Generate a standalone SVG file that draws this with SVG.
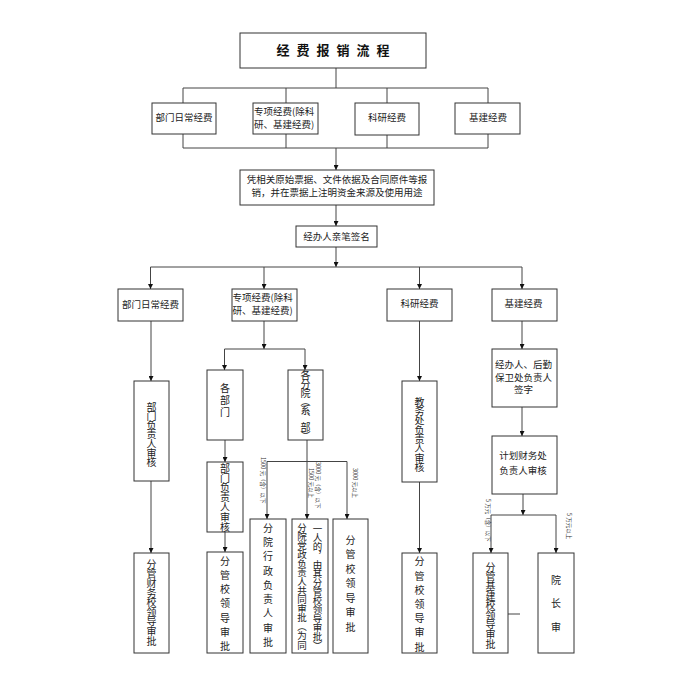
<svg xmlns="http://www.w3.org/2000/svg" width="694" height="694" viewBox="0 0 694 694">
<defs>
<style>
.bx{fill:#fff;stroke:#333;stroke-width:1}
.ln{fill:none;stroke:#444;stroke-width:1}
.t{font-family:"Noto Sans CJK SC","Noto Sans",sans-serif;font-size:9.5px;fill:#222;text-anchor:middle}
.tl{font-family:"Noto Sans CJK SC","Noto Sans",sans-serif;font-size:9.5px;fill:#222;text-anchor:start}
.vt{font-family:"Noto Sans CJK SC","Noto Sans",sans-serif;font-size:10px;fill:#222;writing-mode:vertical-rl;text-orientation:upright;text-anchor:start}
.lb{font-family:"Noto Sans CJK SC","Noto Sans",sans-serif;font-size:5.5px;fill:#333;text-anchor:start}
.ttl{font-family:"Noto Sans CJK SC","Noto Sans",sans-serif;font-size:13px;font-weight:bold;fill:#111;text-anchor:middle}
</style>
<marker id="ar" markerUnits="userSpaceOnUse" markerWidth="5" markerHeight="5" refX="5" refY="2.5" orient="auto">
<path d="M0,0 L5,2.5 L0,5 z" fill="#111"/>
</marker>
</defs>
<rect width="694" height="694" fill="#fff"/>

<g id="connectors">
<path class="ln" d="M336,68 V88 M183,88 H488 M183,88 V103 M286,88 V103 M387,88 V103 M488,88 V103"/>
<path class="ln" d="M183,134 V148 M286,134 V148 M387,135 V148 M488,134 V148 M183,148 H488"/>
<line class="ln" x1="336" y1="148" x2="336" y2="170" marker-end="url(#ar)"/>
<line class="ln" x1="336" y1="205" x2="336" y2="226" marker-end="url(#ar)"/>
<line class="ln" x1="336" y1="247" x2="336" y2="267" marker-end="url(#ar)"/>
<path class="ln" d="M150.5,267 H522"/>
<line class="ln" x1="150.5" y1="267" x2="150.5" y2="289" marker-end="url(#ar)"/>
<line class="ln" x1="264" y1="267" x2="264" y2="289" marker-end="url(#ar)"/>
<line class="ln" x1="419.5" y1="267" x2="419.5" y2="289" marker-end="url(#ar)"/>
<line class="ln" x1="522" y1="267" x2="522" y2="289" marker-end="url(#ar)"/>
<line class="ln" x1="151" y1="321" x2="151" y2="381" marker-end="url(#ar)"/>
<line class="ln" x1="151" y1="481" x2="151" y2="553" marker-end="url(#ar)"/>
<line class="ln" x1="264" y1="321" x2="264" y2="349" marker-end="url(#ar)"/>
<path class="ln" d="M224.5,349 H305"/>
<line class="ln" x1="224.5" y1="349" x2="224.5" y2="370" marker-end="url(#ar)"/>
<line class="ln" x1="305" y1="349" x2="305" y2="370" marker-end="url(#ar)"/>
<line class="ln" x1="225" y1="440" x2="225" y2="462" marker-end="url(#ar)"/>
<line class="ln" x1="225" y1="532" x2="225" y2="552" marker-end="url(#ar)"/>
<line class="ln" x1="307" y1="440" x2="307" y2="519" marker-end="url(#ar)"/>
<path class="ln" d="M267,461.5 H347"/>
<line class="ln" x1="267" y1="461.5" x2="267" y2="519" marker-end="url(#ar)"/>
<line class="ln" x1="347" y1="461.5" x2="347" y2="519" marker-end="url(#ar)"/>
<line class="ln" x1="419.5" y1="321" x2="419.5" y2="381" marker-end="url(#ar)"/>
<line class="ln" x1="419.5" y1="482" x2="419.5" y2="553" marker-end="url(#ar)"/>
<line class="ln" x1="522" y1="321" x2="522" y2="349" marker-end="url(#ar)"/>
<line class="ln" x1="522" y1="407" x2="522" y2="436" marker-end="url(#ar)"/>
<line class="ln" x1="523" y1="494" x2="523" y2="515" marker-end="url(#ar)"/>
<path class="ln" d="M491,515 H556"/>
<line class="ln" x1="491" y1="515" x2="491" y2="553" marker-end="url(#ar)"/>
<line class="ln" x1="556" y1="515" x2="556" y2="553" marker-end="url(#ar)"/>
<path class="ln" d="M508,614 H520"/>
<text class="lb" transform="translate(260.9,457) rotate(90)">1500 元（含）以下</text>
<text class="lb" transform="translate(316.4,462) rotate(90)">3000 元（含）以下</text>
<text class="lb" transform="translate(308.9,468) rotate(90)">1500 元以上</text>
<text class="lb" transform="translate(352.9,468) rotate(90)">3000 元以上</text>
<text class="lb" transform="translate(486.4,499) rotate(90)">5 万元（含）以下</text>
<text class="lb" transform="translate(566.9,513) rotate(90)">5 万元以上</text>
</g>

<g id="title">
<rect class="bx" x="240" y="33" width="186" height="35"/>
<text class="ttl" x="333" y="54.8" textLength="113" lengthAdjust="spacing">经 费 报 销 流 程</text>
</g>

<g id="r1-dept">
<rect class="bx" x="152" y="103" width="64" height="31"/>
<text class="t" x="184" y="121">部门日常经费</text>
</g>
<g id="r1-special">
<rect class="bx" x="253" y="103" width="65" height="31"/>
<text class="tl" x="254" y="114.6">专项经费(除科</text>
<text class="tl" x="254" y="127.6">研、基建经费)</text>
</g>
<g id="r1-research">
<rect class="bx" x="355" y="103" width="64" height="32"/>
<text class="t" x="387" y="121">科研经费</text>
</g>
<g id="r1-infra">
<rect class="bx" x="455" y="103" width="65" height="31"/>
<text class="t" x="488" y="121">基建经费</text>
</g>

<g id="voucher">
<rect class="bx" x="240" y="170" width="194" height="35"/>
<text class="t" x="337" y="183.3">凭相关原始票据、文件依据及合同原件等报</text>
<text class="t" x="337" y="196">销，并在票据上注明资金来源及使用用途</text>
</g>

<g id="sign">
<rect class="bx" x="296" y="226" width="81" height="21"/>
<text class="t" x="336.5" y="239.6">经办人亲笔签名</text>
</g>

<g id="r3-dept">
<rect class="bx" x="118" y="289" width="65" height="32"/>
<text class="t" x="150.5" y="307.6">部门日常经费</text>
</g>
<g id="r3-special">
<rect class="bx" x="232" y="289" width="65" height="32"/>
<text class="tl" x="232.5" y="300.5">专项经费(除科</text>
<text class="tl" x="232.5" y="314.4">研、基建经费)</text>
</g>
<g id="r3-research">
<rect class="bx" x="387" y="289" width="65" height="32"/>
<text class="t" x="419.5" y="307">科研经费</text>
</g>
<g id="r3-infra">
<rect class="bx" x="492" y="289" width="65" height="32"/>
<text class="t" x="523.5" y="307">基建经费</text>
</g>

<g id="dept-head">
<rect class="bx" x="134" y="381" width="35" height="100"/>
<text class="vt" x="151.5" y="402" style="letter-spacing:-0.8px">部门负责人审核</text>
</g>
<g id="finance-leader">
<rect class="bx" x="134" y="553" width="35" height="100"/>
<text class="vt" x="151.5" y="559" style="letter-spacing:-0.4px">分管财务校领导审批</text>
</g>

<g id="each-dept">
<rect class="bx" x="207" y="370" width="36" height="70"/>
<text class="vt" x="225" y="383" style="letter-spacing:2px">各部门</text>
</g>
<g id="each-college">
<rect class="bx" x="288" y="370" width="35" height="70"/>
<text class="vt" x="305.5" y="370.5" style="letter-spacing:-1.4px">各分院（系、部）</text>
</g>
<g id="dept-head-2">
<rect class="bx" x="207" y="462" width="36" height="70"/>
<text class="vt" x="225" y="463" style="letter-spacing:-0.2px">部门负责人审核</text>
</g>
<g id="leader-2">
<rect class="bx" x="207" y="552" width="36" height="101"/>
<text class="vt" x="225" y="556" style="letter-spacing:4.2px">分管校领导审批</text>
</g>
<g id="college-admin">
<rect class="bx" x="250" y="519" width="36" height="134"/>
<text class="vt" x="268" y="523" style="letter-spacing:4.25px">分院行政负责人审批</text>
</g>
<g id="college-joint">
<rect class="bx" x="292" y="519" width="36" height="134"/>
<text class="vt" x="302" y="522.3" style="font-size:9.5px;letter-spacing:-0.43px">分院党政负责人共同审批（为同</text>
<text class="vt" x="317.5" y="523.3" style="font-size:9.5px;letter-spacing:-0.5px">一人的，由其分管校领导审批）</text>
</g>
<g id="leader-3">
<rect class="bx" x="333" y="519" width="35" height="134"/>
<text class="vt" x="350.5" y="535" style="letter-spacing:4.5px">分管校领导审批</text>
</g>

<g id="academic-head">
<rect class="bx" x="402" y="381" width="35" height="101"/>
<text class="vt" x="419.5" y="397" style="letter-spacing:-0.7px">教务处负责人审核</text>
</g>
<g id="leader-4">
<rect class="bx" x="402" y="553" width="35" height="100"/>
<text class="vt" x="419.5" y="556.7" style="letter-spacing:4.17px">分管校领导审批</text>
</g>

<g id="logistics-sign">
<rect class="bx" x="492" y="349" width="65" height="58"/>
<text class="t" x="523.5" y="368.2">经办人、后勤</text>
<text class="t" x="523.5" y="380.7">保卫处负责人</text>
<text class="t" x="523.5" y="393.2">签字</text>
</g>
<g id="plan-finance">
<rect class="bx" x="492" y="436" width="65" height="58"/>
<text class="t" x="523" y="459.4">计划财务处</text>
<text class="t" x="523" y="473.6">负责人审核</text>
</g>
<g id="infra-leader">
<rect class="bx" x="473" y="553" width="35" height="100"/>
<text class="vt" x="490.5" y="562" style="letter-spacing:-0.4px">分管基建校领导审批</text>
</g>
<g id="president">
<rect class="bx" x="538" y="553" width="36" height="100"/>
<text class="vt" x="556" y="575" style="letter-spacing:13.5px">院长审</text>
</g>
</svg>
